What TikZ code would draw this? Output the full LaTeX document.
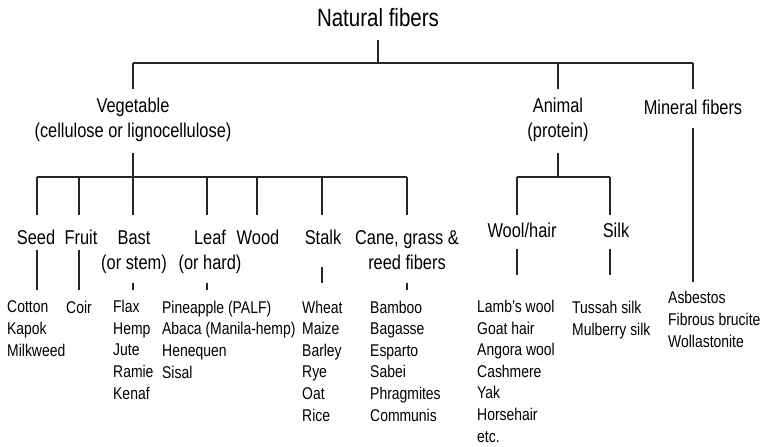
\documentclass[tikz,border=0pt]{standalone}
\usepackage{fontspec}
\setmainfont{Liberation Sans}[FakeStretch=0.82]
\begin{document}
\begin{tikzpicture}[
  x=1pt, y=-1pt,
  title/.style={font=\fontsize{25}{30}\selectfont, inner sep=0pt, anchor=base},
  head/.style={font=\fontsize{20}{25}\selectfont, inner sep=0pt, anchor=base, align=center},
  items/.style={font=\fontsize{17}{21.6}\selectfont, inner sep=0pt, anchor=base west, align=left},
  branch/.style={line width=1.3pt, draw=black!85}
]
\useasboundingbox (0,0) rectangle (764,447);

% Top level (base = last line of a node).
\node[title] (nat) at (378,27) {Natural fibers};
\coordinate (topbus) at (378,63);
\node[head] (veg) at (133,137) {Vegetable\\(cellulose or lignocellulose)};
\node[head] (ani) at (558,137) {Animal\\(protein)};
\node[head] (mnr) at (693,114) {Mineral fibers};

\draw[branch] (nat) ++(0,22) -- (topbus);
\draw[branch] (veg.north |- topbus) -- (mnr.north |- topbus);
\foreach \n in {veg,ani,mnr}
  \draw[branch] (\n.north |- topbus) -- ++(0,26);

% Vegetable sub-groups.
\coordinate (vegbus) at (133,177);
\node[head] (seed)  at (36,244)  {Seed};
\node[head] (fruit) at (81,244)  {Fruit};
\node[head] (bast)  at (134,269) {Bast\\(or stem)};
\node[head] (leaf)  at (210,269) {Leaf\\(or hard)};
\node[head] (wood)  at (258,244) {Wood};
\node[head] (stalk) at (323,244) {Stalk};
\node[head] (cane)  at (407,269) {Cane, grass \&\\reed fibers};

\draw[branch] (veg.north |- 0,153) -- (vegbus);
\draw[branch] (37,177) -- (407,177);
\foreach \n/\x in {seed/37,fruit/79,bast/133,leaf/207,wood/257,stalk/322,cane/407}
  \draw[branch] (\x,177) -- (\x,215);

% Animal sub-groups.
\coordinate (anibus) at (558,177);
\node[head] (wool) at (522,237) {Wool/hair};
\node[head] (silk) at (616,237) {Silk};
\draw[branch] (558,153) -- (anibus);
\draw[branch] (517,177) -- (610,177);
\foreach \x in {517,610}
  \draw[branch] (\x,177) -- (\x,215);

% Fiber lists.
\node[items] (cotton) at (7,356)   {Cotton\\Kapok\\Milkweed};
\node[items] (coir)   at (66,313)  {Coir};
\node[items] (flax)   at (113,399) {Flax\\Hemp\\Jute\\Ramie\\Kenaf};
\node[items] (pine)   at (162,378) {Pineapple (PALF)\\Abaca (Manila-hemp)\\Henequen\\Sisal};
\node[items] (wheat)  at (302,421) {Wheat\\Maize\\Barley\\Rye\\Oat\\Rice};
\node[items] (bamboo) at (370,421) {Bamboo\\Bagasse\\Esparto\\Sabei\\Phragmites\\Communis};
\node[items] (lamb)   at (477,442) {Lamb's wool\\Goat hair\\Angora wool\\Cashmere\\Yak\\Horsehair\\etc.};
\node[items] (tussah) at (572,335) {Tussah silk\\Mulberry silk};
\node[items] (asb)    at (668,347) {Asbestos\\Fibrous brucite\\Wollastonite};

% Links from groups to lists.
\draw[branch] (37,250) -- (37,290);
\draw[branch] (79,250) -- (79,290);
\draw[branch] (133,283) -- (133,290);
\draw[branch] (207,283) -- (207,290);
\draw[branch] (322,267) -- (322,283);
\draw[branch] (407,283) -- (407,290);
\draw[branch] (517,249) -- (517,275);
\draw[branch] (610,249) -- (610,275);
\draw[branch] (693,128) -- (693,282);

\end{tikzpicture}
\end{document}
